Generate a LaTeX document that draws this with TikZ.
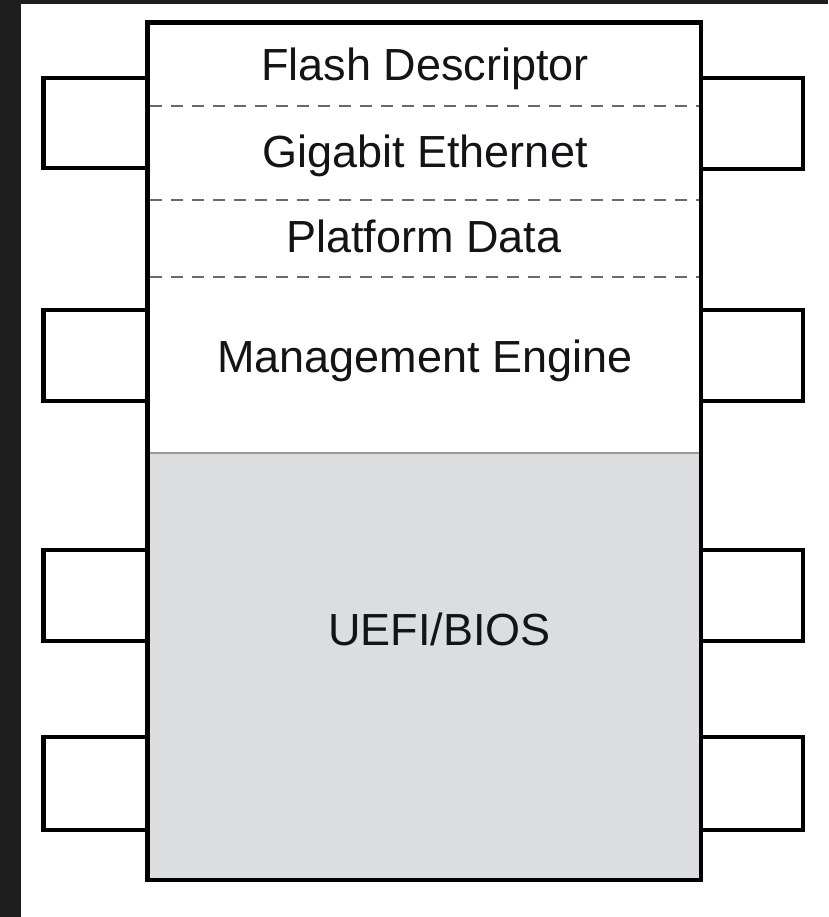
\documentclass[tikz,border=0pt]{standalone}
\usepackage{fontspec}
\setmainfont{Liberation Sans}
\definecolor{bgdark}{HTML}{1E1E1E}
\definecolor{biosgray}{HTML}{DCDDDF}
\definecolor{dashgray}{HTML}{6A6A6A}
\definecolor{sepgray}{HTML}{9A9A9A}
\definecolor{textdark}{HTML}{121418}
\begin{document}
\begin{tikzpicture}[x=1pt,y=-1pt,
  outline/.style={draw=black,line width=4.5pt},
  chippin/.style={outline,fill=white,rectangle,inner sep=0pt,minimum width=104pt},
  region/.style={font=\fontsize{45}{54}\selectfont,text=textdark,anchor=base,inner sep=0pt},
  divider/.style={draw=dashgray,line width=2pt,dash pattern=on 12pt off 9pt},
  separator/.style={draw=sepgray,line width=2pt}]
\useasboundingbox (0,0) rectangle (828,917);
\fill[bgdark] (0,0) rectangle (828,917);
\fill[white] (21,4) rectangle (828,917);
% pins
\node[chippin,minimum height=90pt] (lp1) at (95.25,123) {};
\node[chippin,minimum height=91pt] (lp2) at (95.25,355.5) {};
\node[chippin,minimum height=91pt] (lp3) at (95.25,595.5) {};
\node[chippin,minimum height=93pt] (lp4) at (95.25,783.5) {};
\node[chippin,minimum width=102pt,minimum height=91pt] (rp1) at (752,123.5) {};
\node[chippin,minimum width=102pt,minimum height=91pt] (rp2) at (752,355.5) {};
\node[chippin,minimum width=102pt,minimum height=91pt] (rp3) at (752,595.5) {};
\node[chippin,minimum width=102pt,minimum height=93pt] (rp4) at (752,783.5) {};
% chip body
\node[rectangle,fill=white,inner sep=0pt,minimum width=553.5pt,minimum height=857.5pt] (chip) at (424.25,451.25) {};
\node[rectangle,fill=biosgray,inner sep=0pt,minimum width=553.5pt,minimum height=427pt] (bios) at (424.25,666.5) {};
\node[rectangle,outline,inner sep=0pt,minimum width=553.5pt,minimum height=857.5pt] at (chip.center) {};
% dividers
\coordinate (d1l) at (150,106); \coordinate (d1r) at (699,106);
\coordinate (d2l) at (150,200); \coordinate (d2r) at (699,200);
\coordinate (d3l) at (150,277); \coordinate (d3r) at (699,277);
\draw[divider] (d1l) -- (d1r);
\draw[divider] (d2l) -- (d2r);
\draw[divider] (d3l) -- (d3r);
\coordinate (sl) at (150,453); \coordinate (sr) at (699,453);
\draw[separator] (sl) -- (sr);
% labels
\node[region] (fd) at (425,81) {Flash Descriptor};
\node[region] (ge) at (425,168) {Gigabit Ethernet};
\node[region] (pd) at (424,252) {Platform Data};
\node[region] (me) at (425,372) {Management Engine};
\node[region] (ub) at (439.5,645) {UEFI/BIOS};
\end{tikzpicture}
\end{document}
